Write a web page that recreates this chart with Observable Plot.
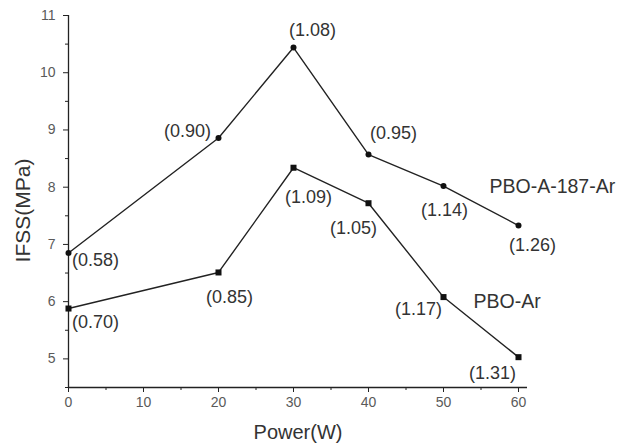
<!DOCTYPE html>
<html>
<head>
<meta charset="utf-8">
<script src="https://cdn.jsdelivr.net/npm/d3@7"></script>
<script src="https://cdn.jsdelivr.net/npm/@observablehq/plot@0.6"></script>
<style>
  html, body { margin: 0; padding: 0; background: #fff; }
  #chart { width: 619px; height: 444px; }
</style>
</head>
<body>
<div id="chart"></div>
<script>
// ---- data ----
const power = [0, 20, 30, 40, 50, 60];
const ifssA187 = [6.85, 8.86, 10.44, 8.57, 8.02, 7.33];   // PBO-A-187-Ar (circles)
const ifssAr   = [5.88, 6.51, 8.34, 7.72, 6.08, 5.03];    // PBO-Ar (squares)
const notesA187 = ["(0.58)", "(0.90)", "(1.08)", "(0.95)", "(1.14)", "(1.26)"];
const notesAr   = ["(0.70)", "(0.85)", "(1.09)", "(1.05)", "(1.17)", "(1.31)"];
const seriesNames = ["PBO-A-187-Ar", "PBO-Ar"];
const xTicks = [0, 10, 20, 30, 40, 50, 60];
const xMinorTicks = [5, 15, 25, 35, 45, 55];
const yTicks = [5, 6, 7, 8, 9, 10, 11];
const yMinorTicks = [4.5, 5.5, 6.5, 7.5, 8.5, 9.5, 10.5];

// ---- tables ----
const A = power.map((p, i) => ({x: p, y: ifssA187[i], note: notesA187[i]}));
const B = power.map((p, i) => ({x: p, y: ifssAr[i], note: notesAr[i]}));

// label placement (pixel offsets from each point)
const offA = [[27, 7], [-31, -7], [19, -17], [25, -21], [1, 24], [14, 20]];
const offB = [[27, 14], [11, 25], [15, 30], [-15, 25], [-25, 12], [-26, 16]];

const font = "'Liberation Sans', Arial, sans-serif";
const ink = "#222";
const textInk = "#333";

const noteMarks = (rows, offs) => rows.map((r, i) =>
  Plot.text([r], {x: "x", y: "y", text: "note", dx: offs[i][0], dy: offs[i][1],
    textAnchor: "middle", fontSize: 18, fill: textInk}));

const chart = Plot.plot({
  width: 619,
  height: 444,
  marginLeft: 68,
  marginRight: 92,
  marginTop: 15,
  marginBottom: 57,
  style: {fontFamily: font, background: "#fff", overflow: "visible"},
  x: {domain: [0, 61.2]},
  y: {domain: [4.5, 11]},
  marks: [
    Plot.ruleX([0], {stroke: ink, strokeWidth: 1.3}),
    Plot.ruleY([4.5], {stroke: ink, strokeWidth: 1.3}),
    Plot.axisX({ticks: xTicks, tickSize: 5, tickPadding: 5, fontSize: 14, color: "#5a5a5a", stroke: ink, label: null, tickFormat: "d"}),
    Plot.axisX({ticks: xMinorTicks, tickSize: 3, text: null, stroke: ink, label: null}),
    Plot.axisY({ticks: yTicks, tickSize: 5, tickPadding: 8, fontSize: 14, color: "#5a5a5a", stroke: ink, label: null, tickFormat: "d"}),
    Plot.axisY({ticks: yMinorTicks, tickSize: 3, text: null, stroke: ink, label: null}),
    Plot.line(A, {x: "x", y: "y", stroke: ink, strokeWidth: 1.4}),
    Plot.line(B, {x: "x", y: "y", stroke: ink, strokeWidth: 1.4}),
    Plot.dot(A, {x: "x", y: "y", r: 3, symbol: "circle", fill: "#111", stroke: "none"}),
    Plot.dot(B, {x: "x", y: "y", r: 3.4, symbol: "square", fill: "#111", stroke: "none"}),
    ...noteMarks(A, offA),
    ...noteMarks(B, offB),
    Plot.text([A[4]], {x: "x", y: "y", text: () => seriesNames[0], textAnchor: "start", dx: 46, dy: 1, fontSize: 19.5, fill: textInk}),
    Plot.text([B[4]], {x: "x", y: "y", text: () => seriesNames[1], textAnchor: "start", dx: 30, dy: 5, fontSize: 19.5, fill: textInk}),
    Plot.text(["Power(W)"], {frameAnchor: "bottom", textAnchor: "middle", dy: 51, fontSize: 20, fill: textInk}),
    Plot.text(["IFSS(MPa)"], {frameAnchor: "left", textAnchor: "middle", lineAnchor: "middle", rotate: -90, dx: -45, dy: 9, fontSize: 21, fill: textInk})
  ]
});
document.getElementById("chart").appendChild(chart);
</script>
</body>
</html>
